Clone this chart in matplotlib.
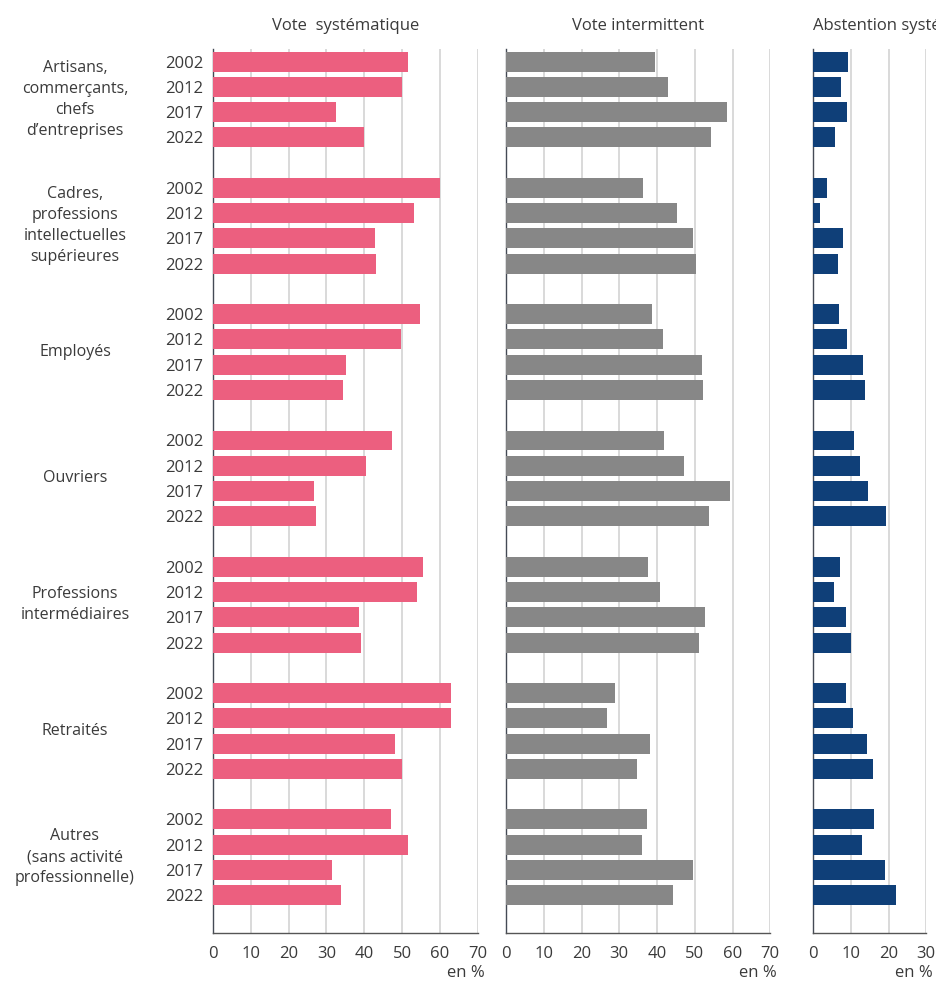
import matplotlib
matplotlib.use("Agg")
import matplotlib.pyplot as plt
import matplotlib.transforms as mtransforms

plt.rcParams['font.family'] = ['Open Sans', 'DejaVu Sans']

# categories and years
groups = ["Artisans,\ncommerçants,\nchefs\nd\u2019entreprises",
          "Cadres,\nprofessions\nintellectuelles\nsupérieures",
          "Employés",
          "Ouvriers",
          "Professions\nintermédiaires",
          "Retraités",
          "Autres\n(sans activité\nprofessionnelle)"]
years = ["2002", "2012", "2017", "2022"]

# values in %, one row per group, columns follow years
vote_systematique = [[51.6, 50.0, 32.5, 39.9],
                     [60.0, 53.2, 42.9, 43.1],
                     [54.8, 49.7, 35.2, 34.4],
                     [47.4, 40.5, 26.7, 27.2],
                     [55.6, 54.0, 38.6, 39.2],
                     [63.0, 63.0, 48.1, 50.0],
                     [47.1, 51.6, 31.5, 33.9]]
vote_intermittent = [[39.5, 42.9, 58.5, 54.3],
                     [36.3, 45.3, 49.5, 50.3],
                     [38.7, 41.6, 51.9, 52.2],
                     [41.9, 47.2, 59.3, 53.8],
                     [37.6, 40.8, 52.7, 51.1],
                     [28.9, 26.8, 38.1, 34.7],
                     [37.4, 36.0, 49.5, 44.2]]
abstention = [[9.3, 7.4, 9.0, 5.8],
              [3.7, 1.9, 7.9, 6.6],
              [6.9, 9.0, 13.2, 13.8],
              [10.8, 12.4, 14.6, 19.3],
              [7.1, 5.6, 8.7, 10.1],
              [8.7, 10.6, 14.3, 15.9],
              [16.1, 13.0, 19.0, 22.0]]

panels = [("Vote  systématique", vote_systematique, "#ec5f7f", 70, "center"),
          ("Vote intermittent", vote_intermittent, "#878787", 70, "center"),
          ("Abstention systématique", abstention, "#0f3f78", 30, "left")]

text_color = "#3a3a3a"
W, H = 937, 981
fig = plt.figure(figsize=(W / 100, H / 100), dpi=100)

# axes placement in pixels: left, right
boxes = [(213, 477.7), (506, 770.3), (813, 926.3)]
top, bottom = 49, 933

# bar positions: 4 years then one empty slot per group
ypos = []
for g in range(len(groups)):
    for i in range(len(years)):
        ypos.append(g * 5 + i)
ylabels = years * len(groups)

axes = []
for (title, values, color, xmax, loc), (x0, x1) in zip(panels, boxes):
    ax = fig.add_axes([x0 / W, 1 - bottom / H, (x1 - x0) / W, (bottom - top) / H])
    flat = [v for row in values for v in row]
    ax.barh(ypos, flat, height=0.79, color=color, zorder=3)
    ax.set_xlim(0, xmax)
    ax.set_ylim(34.5, -0.5)
    ax.set_xticks(range(0, xmax + 1, 10))
    ax.grid(axis='x', color='#d0d0d0', linewidth=1.1, zorder=0)
    ax.set_axisbelow(True)
    for s in ['top', 'right']:
        ax.spines[s].set_visible(False)
    ax.spines['left'].set_color('#444a55')
    ax.spines['bottom'].set_color('#555555')
    ax.spines['left'].set_linewidth(1.0)
    ax.spines['bottom'].set_linewidth(1.0)
    ax.tick_params(axis='x', length=0, pad=9, labelsize=12, labelcolor=text_color)
    ax.tick_params(axis='y', length=0, pad=7, labelsize=12, labelcolor=text_color)
    ax.set_yticks(ypos)
    if not axes:
        ax.set_yticklabels(ylabels)
    else:
        ax.set_yticklabels([])
    # the last title runs past the right edge, as in the original
    if loc == "left":
        ax.set_title(title, loc='left', fontsize=12, color=text_color, pad=14)
    else:
        ax.set_title(title, fontsize=12, color=text_color, pad=14)
    ax.annotate("en %", xy=(1, 0), xycoords='axes fraction', xytext=(5, -28.5),
                textcoords='offset points', ha='right', va='center',
                fontsize=12, color=text_color)
    axes.append(ax)

# group labels at the left
trans = mtransforms.blended_transform_factory(fig.transFigure, axes[0].transData)
for g, name in enumerate(groups):
    axes[0].text(75 / W, g * 5 + 1.5, name, transform=trans, ha='center', va='center',
                 fontsize=11.5, color=text_color, linespacing=1.42)

fig.savefig("out.png", dpi=100)
